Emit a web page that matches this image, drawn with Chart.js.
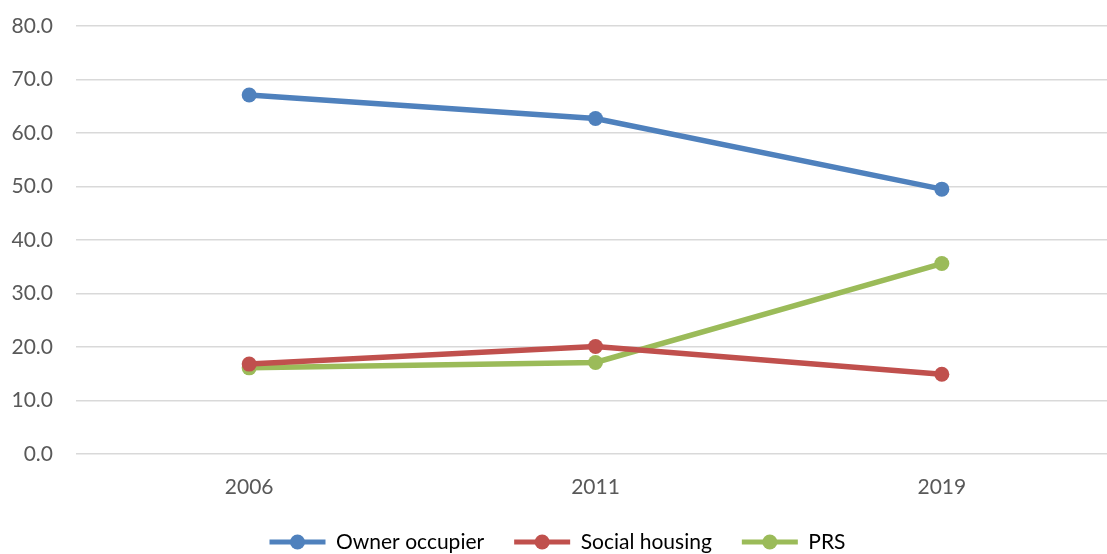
<!DOCTYPE html>
<html>
<head>
<meta charset="utf-8">
<script src="https://cdn.jsdelivr.net/npm/chart.js@4/dist/chart.umd.min.js"></script>
<style>
    html, body { margin: 0; padding: 0; background: #fff; overflow: hidden; }
    /* plot runs slightly past the right edge in the original, so the canvas is a bit wider than the window */
    #wrap { width: 1115px; height: 554px; position: relative; }
</style>
</head>
<body>
<div id="wrap"><canvas id="tenureChart"></canvas></div>
<script>
// data
const years = ['2006', '2011', '2019'];
const ownerOccupier = [67.1, 62.7, 49.5];
const socialHousing = [16.8, 20.1, 14.9];
const prs = [16.1, 17.1, 35.6];
const yTicks = [0, 10, 20, 30, 40, 50, 60, 70, 80];

Chart.defaults.font.family = 'Lato, "Open Sans", sans-serif';
Chart.defaults.color = '#595959';

function makeSeries(label, data, color) {
    return {
        label: label,
        data: data,
        borderColor: color,
        backgroundColor: color,
        borderWidth: 5.5,
        pointRadius: 7.5,
        pointHoverRadius: 7.5,
        pointBorderWidth: 0,
        tension: 0
    };
}

const ctx = document.getElementById('tenureChart').getContext('2d');
new Chart(ctx, {
    type: 'line',
    data: {
        labels: years,
        datasets: [
            makeSeries('Owner occupier', ownerOccupier, '#4F81BD'),
            makeSeries('Social housing', socialHousing, '#C0504D'),
            makeSeries('PRS', prs, '#9BBB59')
        ]
    },
    options: {
        responsive: true,
        maintainAspectRatio: false,
        animation: false,
        layout: {
            autoPadding: false,
            padding: { top: 26, left: 0, right: 0, bottom: -8.5 }
        },
        plugins: {
            tooltip: { enabled: false },
            legend: {
                position: 'bottom',
                labels: {
                    font: { size: 21 },
                    color: '#595959',
                    boxWidth: 56,
                    boxHeight: 5,
                    padding: 30,
                    generateLabels: function(chart) {
                        return chart.data.datasets.map((ds, i) => ({
                            text: ds.label,
                            fillStyle: ds.borderColor,
                            strokeStyle: ds.borderColor,
                            lineWidth: 0,
                            datasetIndex: i,
                            pointStyle: 'line'
                        }));
                    }
                }
            }
        },
        scales: {
            x: {
                offset: true,
                grid: { display: false },
                border: { display: false },
                ticks: { font: { size: 21 }, color: '#595959', padding: 13 },
                afterFit: function(axis) {
                    axis.height = 47.5;
                }
            },
            y: {
                min: 0,
                max: 80,
                afterBuildTicks: function(axis) {
                    axis.ticks = yTicks.map(v => ({ value: v }));
                },
                afterFit: function(axis) {
                    axis.width = 76;
                    axis.paddingTop = 0;
                    axis.paddingBottom = 0;
                },
                grid: { color: '#D9D9D9', lineWidth: 1.5, drawTicks: false },
                border: { display: false },
                ticks: {
                    font: { size: 21 },
                    color: '#595959',
                    padding: 23,
                    callback: v => Number(v).toFixed(1)
                }
            }
        }
    },
    plugins: [{
        // draw a dot in the middle of each legend line, like the original
        id: 'legendDots',
        afterDraw(chart) {
            const lg = chart.legend;
            if (!lg || !lg.legendHitBoxes) return;
            const c = chart.ctx;
            lg.legendHitBoxes.forEach((box, i) => {
                const ds = chart.data.datasets[i];
                const cx = box.left + 28;
                const cy = box.top + box.height / 2;
                c.save();
                c.fillStyle = ds.borderColor;
                c.beginPath();
                c.arc(cx, cy, 7.5, 0, Math.PI * 2);
                c.fill();
                c.restore();
            });
        }
    }]
});
</script>
</body>
</html>
